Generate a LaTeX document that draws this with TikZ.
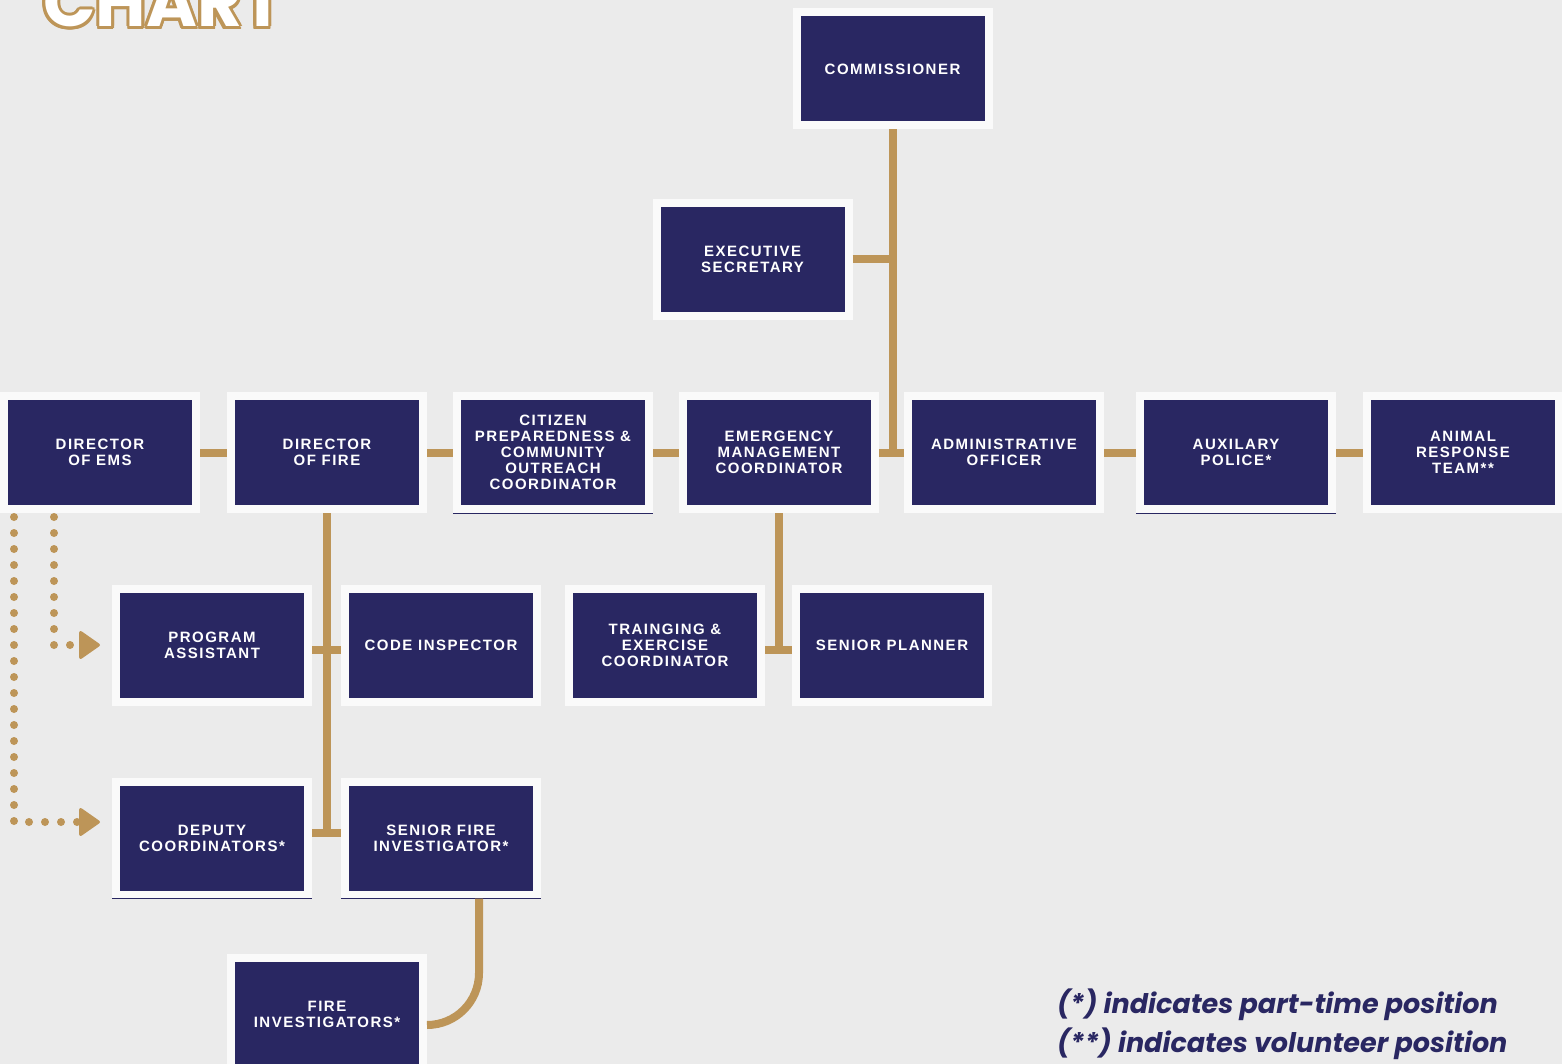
\documentclass[tikz,border=0pt]{standalone}
\usepackage{fontspec}
\usepackage{contour}
\usetikzlibrary{arrows.meta}
\setmainfont{Liberation Sans}
\newfontfamily\boxfont{Liberation Sans}[LetterSpace=10]
\newfontfamily\notefont{Poppins}
\definecolor{navy}{HTML}{292762}
\definecolor{gold}{HTML}{BD9558}
\definecolor{paper}{HTML}{EBEBEB}
\definecolor{frame}{HTML}{FAFAFA}
\contourlength{3pt}

\begin{document}
\begin{tikzpicture}[x=1pt, y=-1pt, node distance=227pt,
  post/.style={rectangle, fill=navy, draw=frame, line width=8pt, minimum width=192pt, minimum height=113pt, inner sep=0pt, align=center, text=white, font=\boxfont\bfseries\fontsize{15}{16}\selectfont},
  ruled/.style={append after command={(\tikzlastnode.south west) edge[draw=navy, line width=1pt] (\tikzlastnode.south east)}},
  link/.style={draw=gold, line width=8pt},
  dotlink/.style={draw=gold, line width=8pt, line cap=round, dash pattern=on 0pt off 16pt, -{Triangle[length=22pt, width=30pt, round, line width'=3pt]}},
  note/.style={anchor=base west, inner sep=0pt, text=navy, font=\notefont\bfseries\itshape\fontsize{27}{30}\selectfont}
]
\useasboundingbox (0,0) rectangle (1562,1064);
\fill[paper] (0,0) rectangle (1562,1064);

% title
\node (title) [anchor=base west, inner sep=0pt, font=\notefont\bfseries\fontsize{69}{69}\selectfont] at (43,27) {\contour{gold}{\textcolor{white}{CHART}}};

% top
\node (comm) [post] at (892.5,69) {COMMISSIONER};
\node (exec) [post] at (752.5,259.5) {EXECUTIVE\\SECRETARY};

% main row
\node (ems) [post] at (100,452.5) {DIRECTOR\\OF EMS};
\node (fire) [post, right of=ems] {DIRECTOR\\OF FIRE};
\node (cit) [post, ruled, right of=fire, xshift=-1pt] {CITIZEN\\PREPAREDNESS \&\\COMMUNITY\\OUTREACH\\COORDINATOR};
\node (emc) [post, right of=cit, xshift=-1pt] {EMERGENCY\\MANAGEMENT\\COORDINATOR};
\node (adm) [post, right of=emc, xshift=-2pt] {ADMINISTRATIVE\\OFFICER};
\node (aux) [post, ruled, right of=adm, xshift=5pt] {AUXILARY\\POLICE*};
\node (arn) [post, right of=aux] {ANIMAL\\RESPONSE\\TEAM**};

% second row
\node (pa) [post] at (212,645) {PROGRAM\\ASSISTANT};
\node (ci) [post, right of=pa, xshift=2pt] {CODE INSPECTOR};
\node (trn) [post, right of=ci, xshift=-3pt] {TRAINGING \&\\EXERCISE\\COORDINATOR};
\node (sp) [post, right of=trn] {SENIOR PLANNER};

% lower rows
\node (dep) [post, ruled] at (212,838) {DEPUTY\\COORDINATORS*};
\node (sfi) [post, ruled, right of=dep, xshift=2pt] {SENIOR FIRE\\INVESTIGATOR*};
\node (fi) [post] at (327,1014.5) {FIRE\\INVESTIGATORS*};

% links
\foreach \a/\b in {ems/fire, fire/cit, cit/emc, emc/adm, adm/aux, aux/arn}
  \draw[link] (\a) -- (\b);
\draw[link] (comm.south) -- (comm.south |- emc.east);
\draw[link] (exec.east) -- (exec.east -| comm.south);

\coordinate (pajoin) at ([yshift=-4.5pt]pa.east);
\coordinate (depjoin) at ([yshift=5pt]dep.east);
\coordinate (trnjoin) at ([yshift=-4.5pt]trn.east);
\draw[link] (pajoin) -- (pajoin -| ci.west);
\draw[link] (depjoin) -- (depjoin -| sfi.west);
\draw[link] (fire.south) -- (fire.south |- depjoin);
\draw[link] (trnjoin) -- (trnjoin -| sp.west);
\draw[link] (emc.south) -- (emc.south |- trnjoin);

\coordinate (sfidrop) at ([xshift=38pt]sfi.south);
\coordinate (fijoin) at ([yshift=-10.5pt]fi.east);
\draw[link, rounded corners=52pt] (sfidrop) |- (fijoin);

% dotted reports
\draw[dotlink] ([xshift=-46pt, yshift=-4pt]ems.south) |- ([xshift=-12pt]pa.west);
\draw[dotlink] ([xshift=-86pt, yshift=-4pt]ems.south) |- ([xshift=-12pt, yshift=16pt]dep.west);

% notes
\node (partnote) [note] at (1057,1013) {(*) indicates part-time position};
\node (volnote) [note] at (1057,1052) {(**) indicates volunteer position};
\end{tikzpicture}
\end{document}
